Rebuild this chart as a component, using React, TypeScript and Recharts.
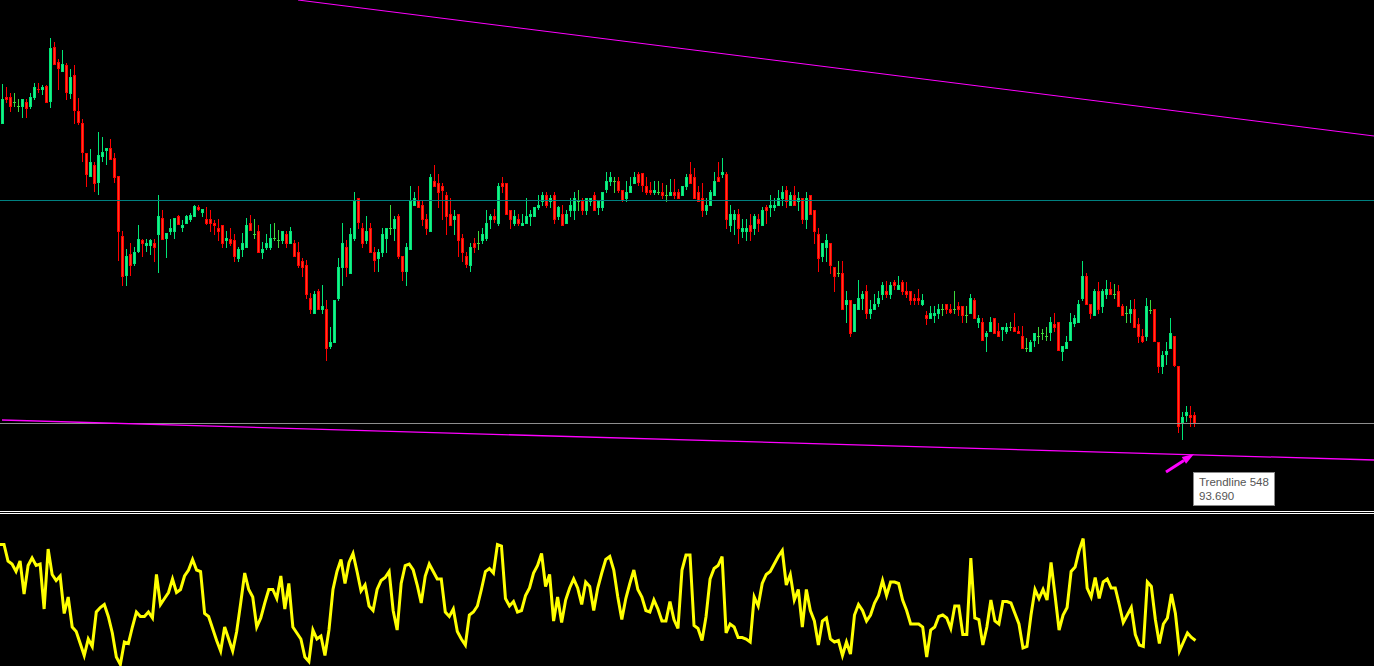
import React from 'react';
import { ComposedChart, Bar, Line, XAxis, YAxis, ReferenceLine } from 'recharts';

// price candles (one per bar, left to right)
const opens = [
  97.00, 97.27, 97.27, 97.22, 97.18, 97.17, 97.22, 97.17, 97.26, 97.35,
  97.34, 97.38, 97.22, 97.77, 97.62, 97.52, 97.59, 97.30, 97.49, 97.13,
  97.01, 96.71, 96.47, 96.59, 96.41, 96.67, 96.73, 96.76, 96.66, 96.48,
  95.88, 95.48, 95.70, 95.60, 95.72, 95.84, 95.78, 95.78, 95.81, 95.89,
  96.06, 95.85, 95.92, 95.92, 96.08, 95.96, 96.00, 96.04, 96.07, 96.17,
  96.11, 96.05, 96.05, 96.01, 95.96, 95.99, 95.83, 95.85, 95.84, 95.65,
  95.74, 95.76, 96.01, 95.90, 95.93, 95.71, 95.76, 95.76, 95.86, 95.84,
  95.83, 95.90, 95.80, 95.81, 95.72, 95.63, 95.59, 95.26, 95.10, 95.33,
  95.14, 95.15, 94.77, 94.81, 95.25, 95.56, 95.77, 95.50, 95.85, 96.26,
  95.96, 95.83, 95.96, 95.72, 95.65, 95.71, 95.85, 95.96, 95.95, 96.08,
  95.68, 95.52, 95.74, 96.18, 96.23, 96.19, 96.05, 95.92, 96.43, 96.41,
  96.38, 96.29, 96.10, 96.04, 96.10, 95.86, 95.68, 95.58, 95.81, 95.81,
  95.83, 95.85, 96.04, 96.08, 96.00, 96.41, 96.41, 96.14, 96.00, 96.05,
  95.98, 96.00, 96.07, 96.07, 96.16, 96.22, 96.29, 96.22, 96.29, 96.07,
  96.10, 96.00, 96.13, 96.13, 96.23, 96.23, 96.13, 96.22, 96.29, 96.16,
  96.16, 96.34, 96.42, 96.43, 96.43, 96.34, 96.25, 96.31, 96.40, 96.50,
  96.51, 96.38, 96.34, 96.31, 96.32, 96.32, 96.29, 96.28, 96.32, 96.32,
  96.28, 96.37, 96.50, 96.47, 96.32, 96.26, 96.13, 96.18, 96.28, 96.47,
  96.49, 96.50, 95.98, 96.04, 96.10, 95.92, 95.92, 95.99, 95.95, 96.05,
  95.98, 96.17, 96.16, 96.16, 96.18, 96.25, 96.34, 96.18, 96.29, 96.22,
  96.26, 96.04, 96.29, 96.14, 95.90, 95.67, 95.76, 95.81, 95.57, 95.51,
  95.51, 95.19, 95.24, 94.92, 95.14, 95.25, 95.33, 95.10, 95.14, 95.20,
  95.29, 95.33, 95.29, 95.42, 95.34, 95.42, 95.33, 95.33, 95.26, 95.26,
  95.19, 95.09, 95.05, 95.08, 95.10, 95.15, 95.20, 95.15, 95.15, 95.18,
  95.18, 95.09, 95.10, 95.24, 95.01, 95.02, 94.87, 94.92, 95.06, 94.93,
  94.94, 94.92, 94.97, 94.97, 94.93, 94.88, 94.76, 94.72, 94.83, 94.88,
  94.91, 94.88, 94.91, 95.00, 95.02, 94.72, 94.75, 94.83, 95.00, 95.01,
  95.25, 95.48, 95.20, 95.08, 95.33, 95.17, 95.29, 95.35, 95.30, 95.33,
  95.18, 95.11, 95.10, 95.15, 95.00, 94.88, 94.87, 95.14, 95.15, 94.82,
  94.57, 94.69, 94.75, 94.88, 94.58, 94.01, 94.08, 94.09, 94.09,
];

const highs = [
  97.40, 97.37, 97.31, 97.31, 97.25, 97.25, 97.25, 97.31, 97.41, 97.41,
  97.39, 97.39, 97.86, 97.82, 97.65, 97.74, 97.61, 97.55, 97.59, 97.26,
  97.05, 96.71, 96.75, 96.62, 96.92, 96.87, 96.76, 96.85, 96.71, 96.48,
  95.93, 95.75, 95.81, 95.77, 95.99, 95.85, 95.85, 95.85, 95.85, 96.29,
  96.14, 95.91, 96.05, 96.06, 96.09, 96.04, 96.09, 96.11, 96.19, 96.19,
  96.15, 96.17, 96.14, 96.04, 96.05, 95.99, 95.93, 95.96, 95.90, 95.77,
  95.91, 96.06, 96.09, 96.05, 95.99, 95.82, 95.90, 96.00, 96.01, 95.94,
  95.93, 95.93, 95.97, 95.84, 95.82, 95.66, 95.64, 95.31, 95.33, 95.35,
  95.39, 95.24, 94.97, 95.24, 95.66, 96.01, 95.84, 95.96, 96.32, 96.26,
  96.01, 96.08, 96.01, 95.77, 95.75, 95.96, 95.96, 96.19, 96.08, 96.10,
  95.68, 95.81, 96.38, 96.32, 96.38, 96.23, 96.10, 96.50, 96.59, 96.50,
  96.41, 96.32, 96.26, 96.14, 96.10, 95.90, 95.72, 95.81, 95.86, 95.93,
  95.96, 96.14, 96.10, 96.15, 96.41, 96.47, 96.41, 96.14, 96.14, 96.10,
  96.10, 96.26, 96.14, 96.17, 96.29, 96.32, 96.32, 96.29, 96.32, 96.18,
  96.19, 96.14, 96.26, 96.32, 96.34, 96.26, 96.26, 96.26, 96.32, 96.23,
  96.32, 96.52, 96.52, 96.47, 96.47, 96.34, 96.43, 96.47, 96.52, 96.52,
  96.51, 96.47, 96.42, 96.43, 96.43, 96.41, 96.39, 96.45, 96.45, 96.35,
  96.38, 96.50, 96.62, 96.56, 96.38, 96.41, 96.26, 96.34, 96.52, 96.62,
  96.66, 96.52, 96.19, 96.14, 96.15, 96.05, 96.05, 96.10, 96.10, 96.10,
  96.17, 96.19, 96.29, 96.26, 96.34, 96.38, 96.38, 96.32, 96.38, 96.32,
  96.26, 96.32, 96.29, 96.14, 95.96, 95.81, 95.90, 95.81, 95.57, 95.63,
  95.63, 95.33, 95.24, 95.20, 95.44, 95.33, 95.39, 95.24, 95.30, 95.33,
  95.42, 95.43, 95.42, 95.44, 95.48, 95.44, 95.42, 95.33, 95.30, 95.35,
  95.30, 95.13, 95.18, 95.18, 95.20, 95.20, 95.20, 95.20, 95.33, 95.22,
  95.18, 95.18, 95.30, 95.26, 95.09, 95.06, 94.93, 95.07, 95.06, 95.01,
  94.97, 95.01, 95.02, 95.11, 94.98, 94.98, 94.86, 94.84, 94.91, 94.97,
  94.95, 94.97, 95.07, 95.11, 95.02, 94.78, 94.88, 95.11, 95.09, 95.24,
  95.63, 95.51, 95.20, 95.35, 95.42, 95.35, 95.44, 95.42, 95.40, 95.39,
  95.20, 95.18, 95.24, 95.25, 95.06, 94.95, 95.26, 95.24, 95.15, 94.82,
  94.73, 94.82, 95.06, 94.88, 94.58, 94.12, 94.18, 94.18, 94.12,
];

const lows = [
  97.00, 97.21, 97.12, 97.17, 97.12, 97.06, 97.06, 97.15, 97.24, 97.31,
  97.29, 97.21, 97.16, 97.59, 97.34, 97.52, 97.24, 97.25, 97.00, 96.99,
  96.62, 96.37, 96.47, 96.32, 96.29, 96.62, 96.59, 96.64, 96.41, 95.63,
  95.38, 95.38, 95.48, 95.58, 95.71, 95.67, 95.72, 95.69, 95.62, 95.51,
  95.84, 95.66, 95.89, 95.85, 95.99, 95.92, 96.00, 96.02, 96.07, 96.13,
  96.07, 95.99, 95.92, 95.89, 95.83, 95.76, 95.76, 95.78, 95.62, 95.62,
  95.67, 95.76, 95.93, 95.85, 95.71, 95.65, 95.74, 95.74, 95.83, 95.76,
  95.80, 95.76, 95.80, 95.67, 95.56, 95.47, 95.25, 95.10, 95.10, 95.14,
  95.10, 94.63, 94.75, 94.81, 95.23, 95.38, 95.47, 95.50, 95.83, 95.95,
  95.76, 95.80, 95.71, 95.52, 95.52, 95.67, 95.71, 95.89, 95.83, 95.65,
  95.43, 95.38, 95.74, 96.18, 96.16, 95.98, 95.89, 95.92, 96.37, 96.16,
  96.04, 95.89, 95.98, 95.89, 95.67, 95.62, 95.56, 95.52, 95.71, 95.74,
  95.80, 95.83, 95.95, 96.01, 95.98, 96.31, 96.09, 95.95, 95.98, 95.98,
  95.98, 96.00, 95.98, 96.07, 96.14, 96.18, 96.16, 96.16, 96.00, 96.04,
  95.98, 96.00, 96.07, 96.04, 96.13, 96.09, 96.09, 96.18, 96.13, 96.09,
  96.13, 96.31, 96.38, 96.31, 96.31, 96.22, 96.22, 96.31, 96.40, 96.38,
  96.32, 96.29, 96.29, 96.29, 96.29, 96.25, 96.22, 96.28, 96.25, 96.25,
  96.28, 96.34, 96.40, 96.25, 96.22, 96.07, 96.09, 96.18, 96.28, 96.42,
  96.46, 95.95, 95.92, 95.89, 95.80, 95.86, 95.83, 95.83, 95.89, 95.92,
  95.98, 96.00, 96.07, 96.13, 96.18, 96.18, 96.16, 96.18, 96.18, 96.13,
  96.00, 95.95, 96.09, 95.80, 95.52, 95.62, 95.62, 95.50, 95.32, 95.47,
  95.14, 95.01, 94.87, 94.92, 95.14, 95.14, 95.05, 95.05, 95.14, 95.17,
  95.24, 95.26, 95.25, 95.34, 95.34, 95.29, 95.26, 95.19, 95.19, 95.19,
  95.18, 94.99, 95.05, 95.01, 95.05, 95.08, 95.10, 95.10, 95.10, 95.08,
  95.01, 95.01, 95.10, 95.05, 94.96, 94.83, 94.72, 94.92, 94.90, 94.87,
  94.83, 94.90, 94.93, 94.92, 94.90, 94.75, 94.72, 94.72, 94.77, 94.80,
  94.84, 94.83, 94.83, 94.92, 94.73, 94.63, 94.75, 94.83, 94.97, 95.01,
  95.23, 95.19, 95.05, 95.08, 95.10, 95.11, 95.25, 95.29, 95.25, 95.17,
  95.08, 95.01, 95.01, 94.96, 94.81, 94.81, 94.83, 95.10, 94.82, 94.51,
  94.50, 94.59, 94.75, 94.57, 93.91, 93.84, 94.02, 93.97, 93.97,
];

const closes = [
  97.25, 97.24, 97.17, 97.22, 97.18, 97.25, 97.15, 97.27, 97.37, 97.34,
  97.37, 97.21, 97.76, 97.59, 97.55, 97.60, 97.31, 97.47, 97.13, 97.01,
  96.71, 96.49, 96.62, 96.40, 96.69, 96.72, 96.76, 96.64, 96.46, 95.92,
  95.47, 95.68, 95.58, 95.72, 95.85, 95.80, 95.81, 95.84, 95.76, 96.08,
  95.84, 95.91, 95.96, 96.06, 95.99, 95.99, 96.08, 96.09, 96.18, 96.14,
  96.15, 96.00, 96.00, 95.98, 95.92, 95.80, 95.86, 95.80, 95.67, 95.75,
  95.81, 95.99, 95.93, 95.90, 95.71, 95.75, 95.81, 95.86, 95.86, 95.84,
  95.93, 95.80, 95.93, 95.67, 95.58, 95.56, 95.29, 95.14, 95.30, 95.14,
  95.18, 94.75, 94.82, 95.24, 95.57, 95.81, 95.56, 95.90, 96.23, 96.01,
  95.80, 95.93, 95.71, 95.63, 95.72, 95.90, 95.96, 95.96, 96.05, 95.67,
  95.52, 95.77, 96.23, 96.26, 96.16, 96.04, 95.95, 96.47, 96.37, 96.31,
  96.33, 96.07, 95.98, 96.08, 95.83, 95.71, 95.59, 95.77, 95.76, 95.81,
  95.90, 96.01, 96.08, 96.04, 96.38, 96.37, 96.09, 96.04, 96.08, 96.00,
  96.01, 96.08, 96.10, 96.17, 96.19, 96.29, 96.18, 96.26, 96.04, 96.17,
  95.98, 96.10, 96.19, 96.26, 96.23, 96.13, 96.26, 96.26, 96.13, 96.23,
  96.32, 96.43, 96.47, 96.43, 96.33, 96.23, 96.32, 96.38, 96.47, 96.41,
  96.38, 96.31, 96.31, 96.34, 96.32, 96.28, 96.29, 96.32, 96.28, 96.25,
  96.38, 96.47, 96.40, 96.25, 96.22, 96.13, 96.19, 96.32, 96.43, 96.42,
  96.52, 96.04, 96.10, 96.10, 95.95, 95.96, 95.96, 95.92, 96.08, 96.00,
  96.14, 96.13, 96.19, 96.19, 96.26, 96.32, 96.22, 96.29, 96.18, 96.26,
  96.04, 96.26, 96.09, 95.92, 95.65, 95.81, 95.84, 95.58, 95.47, 95.51,
  95.14, 95.24, 94.90, 95.20, 95.26, 95.30, 95.10, 95.15, 95.20, 95.26,
  95.39, 95.29, 95.39, 95.38, 95.39, 95.32, 95.29, 95.23, 95.23, 95.23,
  95.24, 95.05, 95.11, 95.11, 95.15, 95.15, 95.14, 95.11, 95.15, 95.14,
  95.08, 95.09, 95.26, 95.05, 95.06, 94.83, 94.91, 95.02, 94.90, 94.87,
  94.97, 94.97, 94.97, 94.92, 94.90, 94.75, 94.76, 94.82, 94.91, 94.88,
  94.91, 94.88, 95.02, 94.96, 94.73, 94.78, 94.82, 95.02, 95.06, 95.20,
  95.48, 95.19, 95.10, 95.33, 95.14, 95.33, 95.35, 95.29, 95.30, 95.17,
  95.08, 95.11, 95.15, 94.96, 94.87, 94.82, 95.18, 95.14, 94.82, 94.57,
  94.69, 94.73, 94.91, 94.58, 93.97, 94.07, 94.12, 94.06, 94.00,
];

// lower window oscillator, 0..100
const osc = [
  81, 81, 70, 68, 63, 70, 48, 67, 72, 67,
  68, 38, 78, 61, 57, 60, 35, 46, 26, 23,
  15, 7, 18, 13, 36, 39, 41, 33, 22, 6,
  1, 16, 15, 26, 36, 33, 33, 36, 32, 61,
  41, 45, 49, 58, 49, 51, 60, 64, 71, 64,
  63, 35, 33, 25, 17, 10, 26, 18, 10, 23,
  42, 62, 51, 46, 26, 32, 42, 51, 51, 45,
  60, 38, 55, 26, 22, 18, 6, 3, 24, 18,
  20, 7, 24, 51, 63, 71, 55, 69, 75, 63,
  50, 54, 40, 37, 51, 57, 59, 63, 37, 24,
  55, 67, 68, 64, 54, 42, 60, 68, 63, 58,
  58, 36, 33, 38, 23, 18, 14, 34, 36, 40,
  51, 63, 65, 62, 81, 80, 45, 40, 43, 36,
  37, 47, 52, 62, 67, 75, 53, 61, 30, 46,
  29, 44, 52, 58, 52, 41, 56, 53, 37, 52,
  62, 71, 73, 64, 46, 31, 45, 55, 64, 51,
  46, 37, 36, 44, 38, 30, 30, 43, 31, 25,
  64, 74, 74, 27, 25, 17, 33, 58, 65, 67,
  73, 22, 28, 26, 19, 19, 18, 16, 46, 40,
  55, 61, 63, 68, 73, 77, 54, 61, 44, 51,
  26, 51, 37, 30, 14, 30, 32, 18, 16, 17,
  7, 16, 8, 34, 41, 37, 30, 34, 42, 47,
  57, 47, 56, 56, 55, 44, 37, 28, 28, 28,
  26, 6, 24, 26, 33, 34, 32, 25, 40, 40,
  21, 21, 72, 32, 31, 14, 26, 44, 30, 28,
  43, 43, 42, 35, 28, 12, 13, 34, 51, 45,
  51, 44, 69, 47, 24, 34, 39, 63, 66, 77,
  85, 52, 46, 59, 45, 56, 58, 52, 52, 41,
  29, 34, 39, 21, 14, 13, 56, 53, 31, 15,
  28, 32, 48, 35, 10, 16, 22, 19, 17,
];

const SLOTS = 344; // bars + empty space on the right
const BULL = '#00e676';
const BULL_IN = '#1cf08c';
const BEAR = '#ff0000';
const BEAR_IN = '#ff3c1e';
const DOJI = '#3cd83c';

const rows = Array.from({ length: SLOTS }, (_, i) => ({
  i,
  o: opens[i] ?? null,
  h: highs[i] ?? null,
  l: lows[i] ?? null,
  c: closes[i] ?? null,
  osc: osc[i] ?? null,
}));

const Candle = (props: any) => {
  const { x, y, height, payload } = props;
  if (!payload || payload.o == null) return <g />;
  const { o, h, l, c } = payload;
  const top = Math.min(y, y + height);
  const span = Math.abs(height);
  const py = (v: number) => (h === l ? top : top + ((h - v) / (h - l)) * span);
  const bx = Math.floor(x);
  const doji = o === c;
  const up = c > o;
  const color = doji ? DOJI : up ? BULL : BEAR;
  const inner = up ? BULL_IN : BEAR_IN;
  const yo = py(o);
  const yc = py(c);
  const bTop = Math.round(Math.min(yo, yc));
  const bH = Math.max(1, Math.round(Math.abs(yo - yc)));
  return (
    <g shapeRendering="crispEdges">
      <rect x={bx + 1} y={Math.round(top)} width={1} height={Math.max(1, Math.round(span))} fill={color} />
      {doji ? (
        <rect x={bx} y={Math.round(yo)} width={3} height={1} fill={color} />
      ) : (
        <>
          <rect x={bx} y={bTop} width={3} height={bH} fill={color} />
          {bH > 2 && <rect x={bx + 1} y={bTop + 1} width={1} height={bH - 2} fill={inner} />}
        </>
      )}
    </g>
  );
};

const Arrow = (props: any) => {
  const { x1, y1, x2, y2 } = props;
  const ang = Math.atan2(y2 - y1, x2 - x1);
  const len = 12;
  const hx = x2 - len * Math.cos(ang);
  const hy = y2 - len * Math.sin(ang);
  const px = 4 * Math.sin(ang);
  const py = -4 * Math.cos(ang);
  return (
    <g>
      <line x1={x1} y1={y1} x2={hx} y2={hy} stroke="#ff00ff" strokeWidth={3} />
      <polygon points={`${x2},${y2} ${hx + px},${hy + py} ${hx - px},${hy - py}`} fill="#ff00ff" />
    </g>
  );
};

export default function App() {
  return (
    <div
      style={{
        position: 'absolute',
        left: 0,
        top: 0,
        width: 1374,
        height: 666,
        background: '#000',
        overflow: 'hidden',
      }}
    >
      <ComposedChart width={1376} height={510} data={rows} margin={{ top: 0, right: 0, bottom: 0, left: 0 }}>
        <XAxis dataKey="i" type="category" hide />
        <YAxis type="number" domain={[93.14, 98.24]} allowDataOverflow hide />
        <ReferenceLine y={96.235} stroke="#008080" strokeWidth={1} />
        <ReferenceLine y={94.005} stroke="#8e8e8e" strokeWidth={1} />
        <ReferenceLine
          segment={[{ x: 74, y: 98.24 }, { x: 343, y: 96.88 }]}
          stroke="#ff00ff"
          strokeWidth={1}
          ifOverflow="visible"
        />
        <ReferenceLine
          segment={[{ x: 0, y: 94.04 }, { x: 343, y: 93.64 }]}
          stroke="#ff00ff"
          strokeWidth={1.3}
          ifOverflow="visible"
        />
        <Bar
          dataKey={(d: any) => (d.h == null ? null : [d.l, d.h])}
          barSize={3}
          shape={<Candle />}
          isAnimationActive={false}
        />
        <ReferenceLine
          segment={[{ x: 291, y: 93.52 }, { x: 298, y: 93.7 }]}
          ifOverflow="visible"
          shape={<Arrow />}
        />
      </ComposedChart>

      <div style={{ position: 'absolute', left: 0, top: 511, width: 1374, height: 1, background: '#fff' }} />
      <div style={{ position: 'absolute', left: 0, top: 513, width: 1374, height: 1, background: '#fff' }} />

      <div style={{ position: 'absolute', left: 0, top: 514 }}>
        <ComposedChart width={1376} height={152} data={rows} margin={{ top: 2, right: 0, bottom: 0, left: 0 }}>
          <XAxis dataKey="i" type="category" hide />
          <YAxis type="number" domain={[0, 100]} allowDataOverflow hide />
          <Line
            type="linear"
            dataKey="osc"
            stroke="#ffff00"
            strokeWidth={3}
            dot={false}
            isAnimationActive={false}
          />
        </ComposedChart>
      </div>

      <div
        style={{
          position: 'absolute',
          left: 1193,
          top: 472,
          width: 82,
          height: 34,
          boxSizing: 'border-box',
          background: '#fff',
          border: '1px solid #8a8a8a',
          padding: '2px 0 0 5px',
          fontFamily: '"Liberation Sans", Arial, sans-serif',
          fontSize: 11.5,
          lineHeight: '14px',
          color: '#555',
        }}
      >
        <div>Trendline 548</div>
        <div>93.690</div>
      </div>
    </div>
  );
}
